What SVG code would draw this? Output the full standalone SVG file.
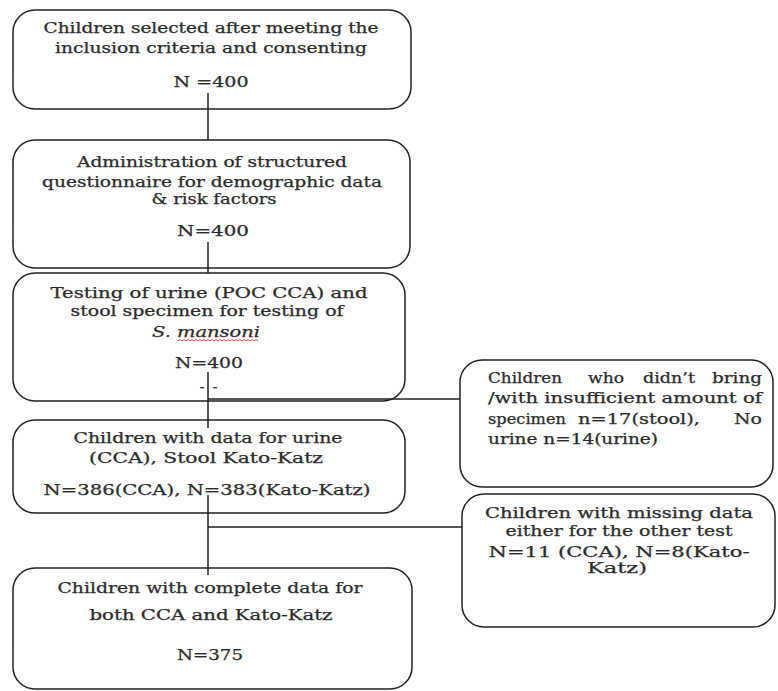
<svg xmlns="http://www.w3.org/2000/svg" width="778" height="691" viewBox="0 0 778 691">
<style>
.box{fill:#fff;stroke:#222;stroke-width:1.5}
.t{font-family:"DejaVu Serif","Liberation Serif",serif;font-size:14px;fill:#2b2b2b;stroke:#2b2b2b;stroke-width:0.25;text-anchor:middle}
.l{text-anchor:start}
.c{stroke:#222;stroke-width:1.5;fill:none}
</style>
<rect width="778" height="691" fill="#fff"/>
<g id="n1">
<rect class="box" x="13" y="10" width="398" height="99" rx="22"/>
<text class="t" x="211" y="33" textLength="335" lengthAdjust="spacingAndGlyphs">Children selected after meeting the</text>
<text class="t" x="211" y="53" textLength="312" lengthAdjust="spacingAndGlyphs">inclusion criteria and consenting</text>
<text class="t" x="211" y="87" textLength="75" lengthAdjust="spacingAndGlyphs">N =400</text>
</g>
<g id="n2">
<rect class="box" x="13" y="140" width="397" height="128" rx="22"/>
<text class="t" x="212" y="167" textLength="270" lengthAdjust="spacingAndGlyphs">Administration of structured</text>
<text class="t" x="212" y="187" textLength="340" lengthAdjust="spacingAndGlyphs">questionnaire for demographic data</text>
<text class="t" x="214" y="204" textLength="125" lengthAdjust="spacingAndGlyphs">&amp; risk factors</text>
<text class="t" x="213" y="236" textLength="72" lengthAdjust="spacingAndGlyphs">N=400</text>
</g>
<g id="n3">
<rect class="box" x="13" y="273" width="392" height="128" rx="22"/>
<text class="t" x="209" y="298" textLength="317" lengthAdjust="spacingAndGlyphs">Testing of urine (POC CCA) and</text>
<text class="t" x="207" y="316" textLength="273" lengthAdjust="spacingAndGlyphs">stool specimen for testing of</text>
<text class="t" x="206" y="337" font-style="italic" textLength="108" lengthAdjust="spacingAndGlyphs">S. mansoni</text>
<path d="M178 341 l2 -1.5 l2 1.5 l2 -1.5 l2 1.5 l2 -1.5 l2 1.5 l2 -1.5 l2 1.5 l2 -1.5 l2 1.5 l2 -1.5 l2 1.5 l2 -1.5 l2 1.5 l2 -1.5 l2 1.5 l2 -1.5 l2 1.5 l2 -1.5 l2 1.5 l2 -1.5 l2 1.5 l2 -1.5 l2 1.5 l2 -1.5 l2 1.5 l2 -1.5 l2 1.5 l2 -1.5 l2 1.5 l2 -1.5 l2 1.5 l2 -1.5 l2 1.5 l2 -1.5 l2 1.5 l2 -1.5 l2 1.5 l2 -1.5 l2 1.5" fill="none" stroke="#d33" stroke-width="0.9"/>
<text class="t" x="209" y="368" textLength="68" lengthAdjust="spacingAndGlyphs">N=400</text>
<text class="t" x="202" y="392" font-size="11">-</text>
<text class="t" x="215" y="392" font-size="11">-</text>
</g>
<g id="n4">
<rect class="box" x="13" y="420" width="392" height="93" rx="22"/>
<text class="t" x="208" y="443" textLength="269" lengthAdjust="spacingAndGlyphs">Children with data for urine</text>
<text class="t" x="206" y="463" textLength="234" lengthAdjust="spacingAndGlyphs">(CCA), Stool Kato-Katz</text>
<text class="t" x="207" y="495" textLength="327" lengthAdjust="spacingAndGlyphs">N=386(CCA), N=383(Kato-Katz)</text>
</g>
<g id="n5">
<rect class="box" x="13" y="568" width="399" height="121" rx="22"/>
<text class="t" x="210" y="593" textLength="305" lengthAdjust="spacingAndGlyphs">Children with complete data for</text>
<text class="t" x="211" y="620" textLength="243" lengthAdjust="spacingAndGlyphs">both CCA and Kato-Katz</text>
<text class="t" x="210" y="660" textLength="66" lengthAdjust="spacingAndGlyphs">N=375</text>
</g>
<g id="s1">
<rect class="box" x="460" y="360" width="313" height="127" rx="22"/>
<text class="t l" x="488" y="383" textLength="74" lengthAdjust="spacingAndGlyphs">Children</text>
<text class="t l" x="588" y="383" textLength="36" lengthAdjust="spacingAndGlyphs">who</text>
<text class="t l" x="643" y="383" textLength="52" lengthAdjust="spacingAndGlyphs">didn’t</text>
<text class="t l" x="712" y="383" textLength="50" lengthAdjust="spacingAndGlyphs">bring</text>
<text class="t l" x="488" y="403" textLength="274" lengthAdjust="spacingAndGlyphs">/with insufficient amount of</text>
<text class="t l" x="488" y="424" textLength="78" lengthAdjust="spacingAndGlyphs">specimen</text>
<text class="t l" x="578" y="424" textLength="122" lengthAdjust="spacingAndGlyphs">n=17(stool),</text>
<text class="t l" x="734" y="424" textLength="28" lengthAdjust="spacingAndGlyphs">No</text>
<text class="t l" x="488" y="444" textLength="170" lengthAdjust="spacingAndGlyphs">urine n=14(urine)</text>
</g>
<g id="s2">
<rect class="box" x="462" y="494" width="313" height="133" rx="22"/>
<text class="t" x="619" y="518" textLength="268" lengthAdjust="spacingAndGlyphs">Children with missing data</text>
<text class="t" x="619" y="536" textLength="227" lengthAdjust="spacingAndGlyphs">either for the other test</text>
<text class="t" x="619" y="557" textLength="261" lengthAdjust="spacingAndGlyphs">N=11 (CCA), N=8(Kato-</text>
<text class="t" x="617" y="573" textLength="60" lengthAdjust="spacingAndGlyphs">Katz)</text>
</g>
<g id="connectors">
<line class="c" x1="208" y1="93" x2="208" y2="140"/>
<line class="c" x1="208" y1="242" x2="208" y2="273"/>
<line class="c" x1="208" y1="372" x2="208" y2="428"/>
<line class="c" x1="208" y1="495" x2="208" y2="575"/>
<line class="c" x1="208" y1="399" x2="460" y2="399"/>
<line class="c" x1="208" y1="527" x2="462" y2="527"/>
</g>
</svg>
